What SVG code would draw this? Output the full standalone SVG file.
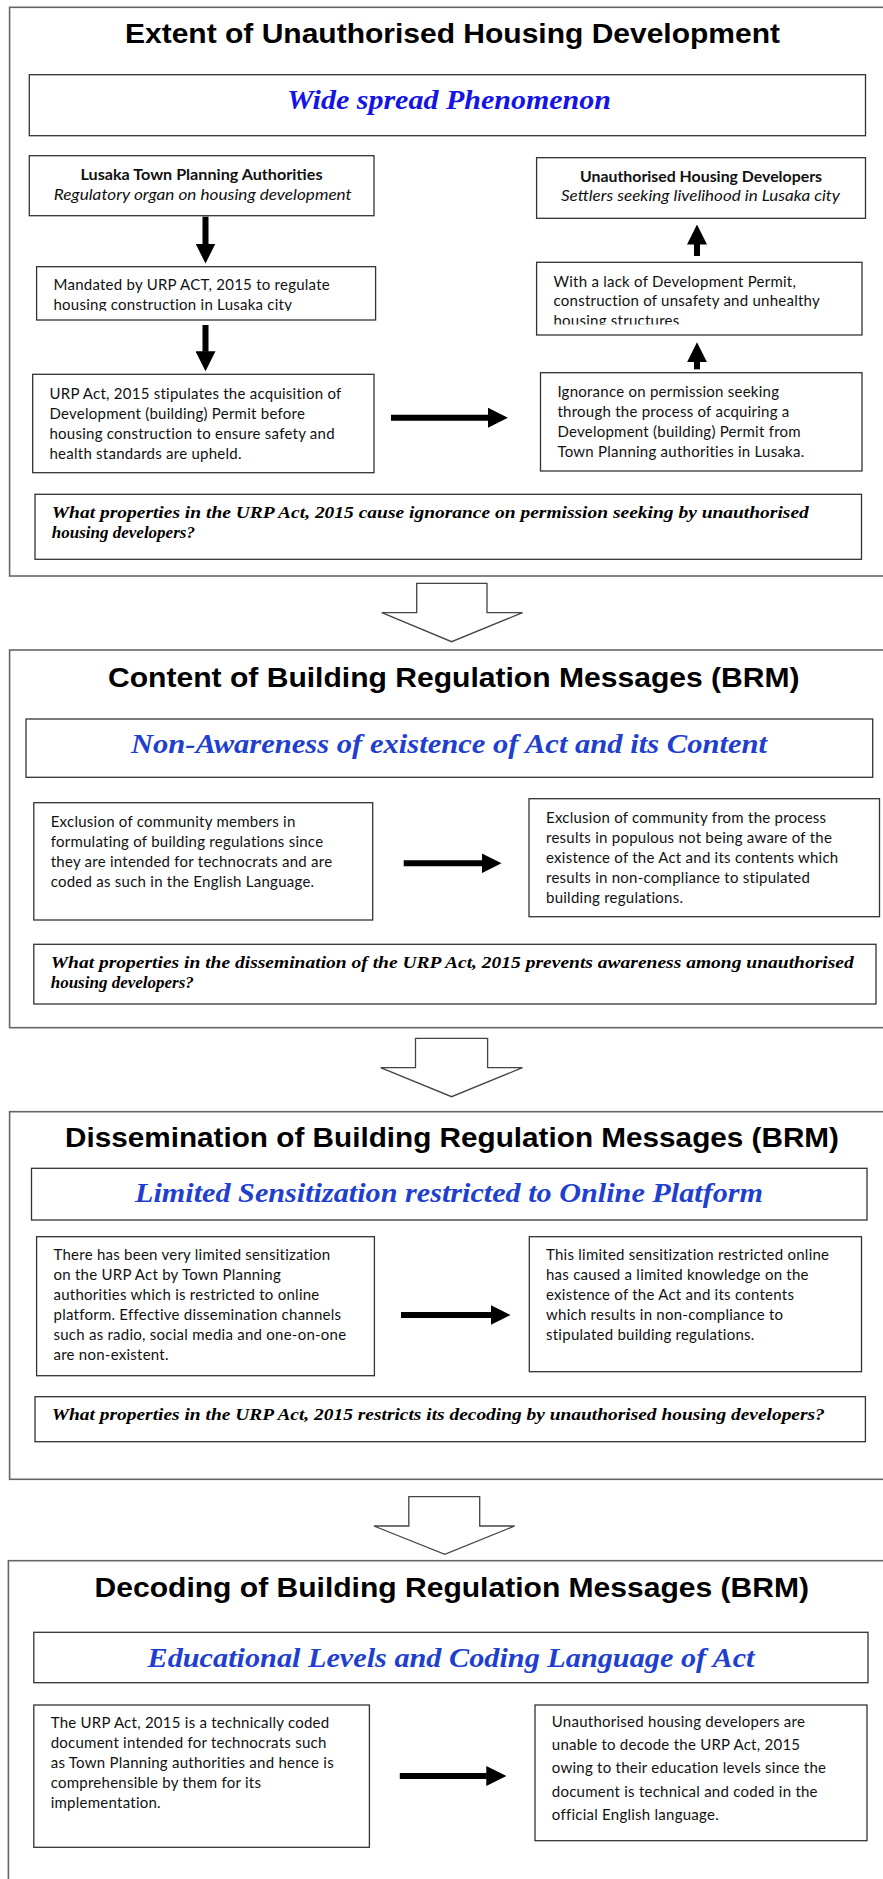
<svg xmlns="http://www.w3.org/2000/svg" width="883" height="1879" viewBox="0 0 883 1879">
<style>
.frame{fill:none;stroke:#666;stroke-width:1.6}
.box{fill:#fff;stroke:#333;stroke-width:1.3}
.blk{fill:#fff;stroke:#444;stroke-width:1.3}
.title{font-family:"Liberation Sans",Arial,sans-serif;font-weight:bold;font-size:28px;text-anchor:middle;fill:#000}
.head{font-family:"Liberation Serif","Times New Roman",serif;font-style:italic;font-weight:bold;font-size:28px;text-anchor:middle;fill:#1f3fcf}
.body{font-family:Lato,"Liberation Sans",sans-serif;font-size:15px;letter-spacing:0.25px;fill:#111}
.bb{font-family:Lato,"Liberation Sans",sans-serif;font-size:14.5px;font-weight:bold;text-anchor:middle;fill:#111}
.bi{font-family:Lato,"Liberation Sans",sans-serif;font-size:14.5px;font-style:italic;text-anchor:middle;fill:#111}
.q{font-family:"Liberation Serif","Times New Roman",serif;font-style:italic;font-weight:bold;font-size:17px;fill:#000}
.con{stroke:#000;stroke-width:6;fill:none;marker-end:url(#ah)}
</style>
<defs>
<marker id="ah" viewBox="0 0 20 20" refX="0.5" refY="10" markerWidth="20" markerHeight="20" markerUnits="userSpaceOnUse" orient="auto">
<path d="M0,0 L20,10 L0,20 z" fill="#000"/>
</marker>
<clipPath id="clipM"><rect x="36" y="266" width="340" height="45"/></clipPath>
<clipPath id="clipL"><rect x="536" y="262" width="326" height="62.5"/></clipPath>
</defs>

<!-- Section frames -->
<g id="frame1"><rect class="frame" x="9.6" y="7.3" width="890" height="568.7"/></g>
<g id="frame2"><rect class="frame" x="9.6" y="650" width="890" height="377.7"/></g>
<g id="frame3"><rect class="frame" x="9.6" y="1111.7" width="890" height="367.6"/></g>
<g id="frame4"><rect class="frame" x="8.4" y="1560.7" width="890" height="340"/></g>

<!-- Section 1 -->
<g id="title1"><text class="title" x="452.5" y="43.3" textLength="655" lengthAdjust="spacingAndGlyphs">Extent of Unauthorised Housing Development</text></g>
<g id="head1"><rect class="box" x="29.3" y="74.7" width="836.2" height="61"/>
<text class="head" x="449" y="109.3" style="fill:#1414e6" textLength="324" lengthAdjust="spacingAndGlyphs">Wide spread Phenomenon</text></g>
<g id="lusaka"><rect class="box" x="29.3" y="155.7" width="344.7" height="60"/>
<text class="bb" x="201.5" y="180" textLength="242" lengthAdjust="spacingAndGlyphs">Lusaka Town Planning Authorities</text>
<text class="bi" x="202.7" y="200" textLength="298" lengthAdjust="spacingAndGlyphs">Regulatory organ on housing development</text></g>
<g id="developers"><rect class="box" x="536.6" y="157.7" width="328.9" height="60.6"/>
<text class="bb" x="701" y="181.7" textLength="242" lengthAdjust="spacingAndGlyphs">Unauthorised Housing Developers</text>
<text class="bi" x="700.5" y="201.3" textLength="279" lengthAdjust="spacingAndGlyphs">Settlers seeking livelihood in Lusaka city</text></g>
<g id="mandated"><rect class="box" x="36.6" y="266.7" width="339" height="53.3"/>
<g clip-path="url(#clipM)"><text class="body" x="53.5" y="290">Mandated by URP ACT, 2015 to regulate</text>
<text class="body" x="53.5" y="310">housing construction in Lusaka city</text></g></g>
<g id="lack"><rect class="box" x="536.6" y="262.3" width="325.4" height="72.7"/>
<g clip-path="url(#clipL)"><text class="body" x="553.5" y="286.7">With a lack of Development Permit,</text>
<text class="body" x="553.5" y="306">construction of unsafety and unhealthy</text>
<text class="body" x="553.5" y="326">housing structures</text></g></g>
<g id="urp"><rect class="box" x="32.7" y="374.3" width="341.3" height="98.4"/>
<text class="body" x="49.5" y="398.5">URP Act, 2015 stipulates the acquisition of</text>
<text class="body" x="49.5" y="418.5">Development (building) Permit before</text>
<text class="body" x="49.5" y="438.5">housing construction to ensure safety and</text>
<text class="body" x="49.5" y="458.5">health standards are upheld.</text></g>
<g id="ignorance"><rect class="box" x="540.5" y="372.7" width="321.5" height="98.3"/>
<text class="body" x="557.4" y="396.7">Ignorance on permission seeking</text>
<text class="body" x="557.4" y="416.7">through the process of acquiring a</text>
<text class="body" x="557.4" y="436.7">Development (building) Permit from</text>
<text class="body" x="557.4" y="456.7">Town Planning authorities in Lusaka.</text></g>
<g id="q1"><rect class="box" x="35" y="494.3" width="826.5" height="65"/>
<text class="q" x="51.8" y="518.3" textLength="757" lengthAdjust="spacingAndGlyphs">What properties in the URP Act, 2015 cause ignorance on permission seeking by unauthorised</text>
<text class="q" x="51.8" y="538.3">housing developers?</text></g>

<!-- Section 2 -->
<g id="title2"><text class="title" x="453.8" y="686.7" textLength="691.5" lengthAdjust="spacingAndGlyphs">Content of Building Regulation Messages (BRM)</text></g>
<g id="head2"><rect class="box" x="26" y="719" width="846.7" height="58.3"/>
<text class="head" x="449" y="753.3" textLength="636" lengthAdjust="spacingAndGlyphs">Non-Awareness of existence of Act and its Content</text></g>
<g id="exclusion1"><rect class="box" x="33.8" y="802.7" width="338.9" height="117.3"/>
<text class="body" x="50.7" y="827">Exclusion of community members in</text>
<text class="body" x="50.7" y="847">formulating of building regulations since</text>
<text class="body" x="50.7" y="867">they are intended for technocrats and are</text>
<text class="body" x="50.7" y="887">coded as such in the English Language.</text></g>
<g id="exclusion2"><rect class="box" x="529" y="798.7" width="350.5" height="118"/>
<text class="body" x="546" y="823">Exclusion of community from the process</text>
<text class="body" x="546" y="843">results in populous not being aware of the</text>
<text class="body" x="546" y="863">existence of the Act and its contents which</text>
<text class="body" x="546" y="883">results in non-compliance to stipulated</text>
<text class="body" x="546" y="903">building regulations.</text></g>
<g id="q2"><rect class="box" x="33.8" y="944.3" width="842.2" height="59.7"/>
<text class="q" x="50.7" y="968.3" textLength="803" lengthAdjust="spacingAndGlyphs">What properties in the dissemination of the URP Act, 2015 prevents awareness among unauthorised</text>
<text class="q" x="50.7" y="988.3">housing developers?</text></g>

<!-- Section 3 -->
<g id="title3"><text class="title" x="452" y="1146.7" textLength="774" lengthAdjust="spacingAndGlyphs">Dissemination of Building Regulation Messages (BRM)</text></g>
<g id="head3"><rect class="box" x="31.5" y="1168.3" width="835.5" height="51.7"/>
<text class="head" x="449" y="1201.7" textLength="628" lengthAdjust="spacingAndGlyphs">Limited Sensitization restricted to Online Platform</text></g>
<g id="sensitization1"><rect class="box" x="36.6" y="1236.7" width="337.8" height="139"/>
<text class="body" x="53.5" y="1260">There has been very limited sensitization</text>
<text class="body" x="53.5" y="1280">on the URP Act by Town Planning</text>
<text class="body" x="53.5" y="1300">authorities which is restricted to online</text>
<text class="body" x="53.5" y="1320">platform. Effective dissemination channels</text>
<text class="body" x="53.5" y="1340">such as radio, social media and one-on-one</text>
<text class="body" x="53.5" y="1360">are non-existent.</text></g>
<g id="sensitization2"><rect class="box" x="529.3" y="1236.7" width="332.2" height="135"/>
<text class="body" x="546" y="1260">This limited sensitization restricted online</text>
<text class="body" x="546" y="1280">has caused a limited knowledge on the</text>
<text class="body" x="546" y="1300">existence of the Act and its contents</text>
<text class="body" x="546" y="1320">which results in non-compliance to</text>
<text class="body" x="546" y="1340">stipulated building regulations.</text></g>
<g id="q3"><rect class="box" x="35" y="1396.7" width="830.4" height="45"/>
<text class="q" x="51.8" y="1420" textLength="773" lengthAdjust="spacingAndGlyphs">What properties in the URP Act, 2015 restricts its decoding by unauthorised housing developers?</text></g>

<!-- Section 4 -->
<g id="title4"><text class="title" x="451.8" y="1596.7" textLength="714.4" lengthAdjust="spacingAndGlyphs">Decoding of Building Regulation Messages (BRM)</text></g>
<g id="head4"><rect class="box" x="33.8" y="1632.3" width="834.2" height="50.4"/>
<text class="head" x="451" y="1666.7" textLength="607" lengthAdjust="spacingAndGlyphs">Educational Levels and Coding Language of Act</text></g>
<g id="decoding1"><rect class="box" x="33.8" y="1705" width="335.6" height="142.3"/>
<text class="body" x="50.7" y="1728.3">The URP Act, 2015 is a technically coded</text>
<text class="body" x="50.7" y="1748.3">document intended for technocrats such</text>
<text class="body" x="50.7" y="1768.3">as Town Planning authorities and hence is</text>
<text class="body" x="50.7" y="1788.3">comprehensible by them for its</text>
<text class="body" x="50.7" y="1808.3">implementation.</text></g>
<g id="decoding2"><rect class="box" x="535" y="1705" width="332" height="135.7"/>
<text class="body" x="551.8" y="1726.7">Unauthorised housing developers are</text>
<text class="body" x="551.8" y="1750">unable to decode the URP Act, 2015</text>
<text class="body" x="551.8" y="1773.3">owing to their education levels since the</text>
<text class="body" x="551.8" y="1796.7">document is technical and coded in the</text>
<text class="body" x="551.8" y="1820">official English language.</text></g>

<!-- Connectors -->
<g id="connectors">
<line class="con" x1="205.5" y1="216.7" x2="205.5" y2="244"/>
<line class="con" x1="205.5" y1="325" x2="205.5" y2="351.7"/>
<line class="con" x1="391" y1="417.7" x2="488.4" y2="417.7"/>
<line class="con" x1="697" y1="369.3" x2="697" y2="361.7"/>
<line class="con" x1="697" y1="256" x2="697" y2="244"/>
<line class="con" x1="403.7" y1="863.3" x2="482" y2="863.3"/>
<line class="con" x1="401" y1="1315" x2="491" y2="1315"/>
<line class="con" x1="399.8" y1="1776" x2="486.8" y2="1776"/>
<polygon class="blk" points="416.7,583.3 487,583.3 487,612.7 522.5,612.7 451.6,641.7 381.8,612.7 416.7,612.7"/>
<polygon class="blk" points="415.5,1038.3 487.6,1038.3 487.6,1067.7 522.5,1067.7 451.6,1096.7 380.6,1067.7 415.5,1067.7"/>
<polygon class="blk" points="408.8,1496.7 479.7,1496.7 479.7,1526 514.6,1526 444.8,1554.3 373.9,1526 408.8,1526"/>
</g>
</svg>
